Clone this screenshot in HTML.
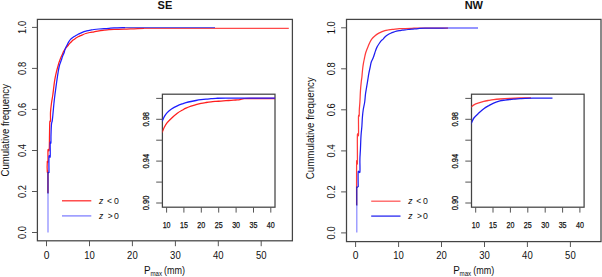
<!DOCTYPE html>
<html><head><meta charset="utf-8"><style>
html,body{margin:0;padding:0;background:#fff;width:602px;height:277px;overflow:hidden}
svg{display:block}
text{font-family:"Liberation Sans",sans-serif;fill:#111}
.b{stroke:#111;stroke-width:0.25px}
</style></head><body>
<svg width="602" height="277" viewBox="0 0 602 277">
<rect width="602" height="277" fill="#fff"/>
<rect x="37.4" y="19.4" width="255.0" height="221.4" fill="none" stroke="#444" stroke-width="1.25"/>
<line x1="32.0" y1="232.5" x2="37.4" y2="232.5" stroke="#555" stroke-width="1.0"/>
<text x="26.1" y="232.5" transform="rotate(-90 26.1 232.5)" text-anchor="middle" font-size="10.3" textLength="13.0" lengthAdjust="spacingAndGlyphs">0.0</text>
<line x1="32.0" y1="191.5" x2="37.4" y2="191.5" stroke="#555" stroke-width="1.0"/>
<text x="26.1" y="191.5" transform="rotate(-90 26.1 191.5)" text-anchor="middle" font-size="10.3" textLength="13.0" lengthAdjust="spacingAndGlyphs">0.2</text>
<line x1="32.0" y1="150.5" x2="37.4" y2="150.5" stroke="#555" stroke-width="1.0"/>
<text x="26.1" y="150.5" transform="rotate(-90 26.1 150.5)" text-anchor="middle" font-size="10.3" textLength="13.0" lengthAdjust="spacingAndGlyphs">0.4</text>
<line x1="32.0" y1="109.4" x2="37.4" y2="109.4" stroke="#555" stroke-width="1.0"/>
<text x="26.1" y="109.4" transform="rotate(-90 26.1 109.4)" text-anchor="middle" font-size="10.3" textLength="13.0" lengthAdjust="spacingAndGlyphs">0.6</text>
<line x1="32.0" y1="68.4" x2="37.4" y2="68.4" stroke="#555" stroke-width="1.0"/>
<text x="26.1" y="68.4" transform="rotate(-90 26.1 68.4)" text-anchor="middle" font-size="10.3" textLength="13.0" lengthAdjust="spacingAndGlyphs">0.8</text>
<line x1="32.0" y1="27.4" x2="37.4" y2="27.4" stroke="#555" stroke-width="1.0"/>
<text x="26.1" y="27.4" transform="rotate(-90 26.1 27.4)" text-anchor="middle" font-size="10.3" textLength="13.0" lengthAdjust="spacingAndGlyphs">1.0</text>
<line x1="46.5" y1="240.8" x2="46.5" y2="246.2" stroke="#555" stroke-width="1.0"/>
<text x="46.5" y="259" text-anchor="middle" font-size="10.3">0</text>
<line x1="89.5" y1="240.8" x2="89.5" y2="246.2" stroke="#555" stroke-width="1.0"/>
<text x="89.5" y="259" text-anchor="middle" font-size="10.3" textLength="10.6" lengthAdjust="spacingAndGlyphs">10</text>
<line x1="132.4" y1="240.8" x2="132.4" y2="246.2" stroke="#555" stroke-width="1.0"/>
<text x="132.4" y="259" text-anchor="middle" font-size="10.3" textLength="10.6" lengthAdjust="spacingAndGlyphs">20</text>
<line x1="175.4" y1="240.8" x2="175.4" y2="246.2" stroke="#555" stroke-width="1.0"/>
<text x="175.4" y="259" text-anchor="middle" font-size="10.3" textLength="10.6" lengthAdjust="spacingAndGlyphs">30</text>
<line x1="218.3" y1="240.8" x2="218.3" y2="246.2" stroke="#555" stroke-width="1.0"/>
<text x="218.3" y="259" text-anchor="middle" font-size="10.3" textLength="10.6" lengthAdjust="spacingAndGlyphs">40</text>
<line x1="261.2" y1="240.8" x2="261.2" y2="246.2" stroke="#555" stroke-width="1.0"/>
<text x="261.2" y="259" text-anchor="middle" font-size="10.3" textLength="10.6" lengthAdjust="spacingAndGlyphs">50</text>
<text x="164.9" y="9" text-anchor="middle" font-size="11" font-weight="bold">SE</text>
<text x="144.1" y="273.8" font-size="10.6" textLength="6.6" lengthAdjust="spacingAndGlyphs">P</text>
<text x="150.5" y="275.9" font-size="6.8" textLength="11.6" lengthAdjust="spacingAndGlyphs">max</text>
<text x="164.1" y="273.9" font-size="10.6" textLength="21.0" lengthAdjust="spacingAndGlyphs">(mm)</text>
<text x="8.7" y="130.3" transform="rotate(-90 8.7 130.3)" text-anchor="middle" font-size="10.4" textLength="92.4" lengthAdjust="spacingAndGlyphs">Cumulative frequency</text>
<g fill="none" stroke-width="1.25" stroke-linejoin="round">
<path d="M47.90,193.00 C47.90,189.50 48.00,175.50 47.90,172.00 C47.80,168.50 47.40,173.72 47.30,172.00 C47.20,170.28 47.18,163.42 47.30,161.70 C47.42,159.98 47.88,163.65 48.00,161.70 C48.12,159.75 47.80,151.95 48.00,150.00 C48.20,148.05 48.95,152.50 49.20,150.00 C49.45,147.50 49.40,139.67 49.50,135.00 C49.60,130.33 49.63,124.33 49.80,122.00 C49.97,119.67 50.38,122.60 50.50,121.00 C50.62,119.40 50.33,115.40 50.50,112.40 C50.67,109.40 51.12,105.90 51.50,103.00 C51.88,100.10 52.42,97.68 52.80,95.00 C53.18,92.32 53.47,89.47 53.80,86.90 C54.13,84.33 54.38,82.02 54.80,79.60 C55.22,77.18 55.77,74.67 56.30,72.40 C56.83,70.13 57.53,67.72 58.00,66.00 C58.47,64.28 58.75,63.17 59.10,62.10 C59.45,61.03 59.77,60.43 60.10,59.60 C60.43,58.77 60.73,57.95 61.10,57.10 C61.47,56.25 61.93,55.35 62.30,54.50 C62.67,53.65 63.00,52.65 63.30,52.00 C63.60,51.35 63.65,51.30 64.10,50.60 C64.55,49.90 65.28,48.73 66.00,47.80 C66.72,46.87 67.82,45.70 68.40,45.00 C68.98,44.30 69.15,44.00 69.50,43.60 C69.85,43.20 69.90,43.18 70.50,42.60 C71.10,42.02 72.25,40.82 73.10,40.10 C73.95,39.38 74.77,38.85 75.60,38.30 C76.43,37.75 77.27,37.25 78.10,36.80 C78.93,36.35 79.87,35.93 80.60,35.60 C81.33,35.27 81.63,35.15 82.50,34.80 C83.37,34.45 84.58,33.88 85.80,33.50 C87.02,33.12 88.43,32.78 89.80,32.50 C91.17,32.22 92.47,32.08 94.00,31.80 C95.53,31.52 97.33,31.07 99.00,30.80 C100.67,30.53 102.33,30.38 104.00,30.20 C105.67,30.02 107.33,29.83 109.00,29.70 C110.67,29.57 111.50,29.48 114.00,29.40 C116.50,29.32 120.67,29.30 124.00,29.20 C127.33,29.10 130.67,28.93 134.00,28.80 C137.33,28.67 142.33,28.47 144.00,28.40" stroke="#ff1e1e"/>
<path d="M49.00,173.00 C49.00,170.27 48.80,159.33 49.00,156.60 C49.20,153.87 50.00,158.87 50.20,156.60 C50.40,154.33 50.08,145.27 50.20,143.00 C50.32,140.73 50.77,144.33 50.90,143.00 C51.03,141.67 50.90,138.17 51.00,135.00 C51.10,131.83 51.28,126.43 51.50,124.00 C51.72,121.57 52.03,122.33 52.30,120.40 C52.57,118.47 52.83,115.18 53.10,112.40 C53.37,109.62 53.60,106.60 53.90,103.70 C54.20,100.80 54.55,97.80 54.90,95.00 C55.25,92.20 55.65,89.47 56.00,86.90 C56.35,84.33 56.65,82.02 57.00,79.60 C57.35,77.18 57.72,74.67 58.10,72.40 C58.48,70.13 58.88,67.72 59.30,66.00 C59.72,64.28 60.23,63.17 60.60,62.10 C60.97,61.03 61.22,60.43 61.50,59.60 C61.78,58.77 62.00,57.95 62.30,57.10 C62.60,56.25 62.98,55.27 63.30,54.50 C63.62,53.73 63.95,53.23 64.20,52.50 C64.45,51.77 64.53,50.92 64.80,50.10 C65.07,49.28 65.42,48.45 65.80,47.60 C66.18,46.75 66.68,45.83 67.10,45.00 C67.52,44.17 67.73,43.53 68.30,42.60 C68.87,41.67 69.70,40.28 70.50,39.40 C71.30,38.52 72.25,37.90 73.10,37.30 C73.95,36.70 74.77,36.30 75.60,35.80 C76.43,35.30 77.27,34.75 78.10,34.30 C78.93,33.85 79.62,33.55 80.60,33.10 C81.58,32.65 83.00,31.97 84.00,31.60 C85.00,31.23 85.50,31.15 86.60,30.90 C87.70,30.65 89.37,30.33 90.60,30.10 C91.83,29.87 92.60,29.68 94.00,29.50 C95.40,29.32 97.33,29.13 99.00,29.00 C100.67,28.87 102.33,28.82 104.00,28.70 C105.67,28.58 107.33,28.43 109.00,28.30 C110.67,28.17 111.33,28.02 114.00,27.90 C116.67,27.78 123.17,27.65 125.00,27.60" stroke="#1e1eff"/>
</g>
<polyline points="144.0,28.4 288.8,28.4" fill="none" stroke="#ff4a4a" stroke-width="1.1"/><polyline points="125.0,27.6 215.0,27.6" fill="none" stroke="#5050e0" stroke-width="1.0"/><polyline points="48.0,232.5 48.0,193.0" fill="none" stroke="#8c8cff" stroke-width="1.25"/><polyline points="48.0,193.5 48.0,172.6 49.0,172.6" fill="none" stroke="#2222c0" stroke-width="1.25"/>
<line x1="62.0" y1="200.8" x2="91.3" y2="200.8" stroke="#ff3030" stroke-width="1.3"/>
<line x1="62.0" y1="215.9" x2="91.3" y2="215.9" stroke="#8080ff" stroke-width="1.3"/>
<text x="101.1" y="203.7" font-size="8.5" font-style="italic" text-anchor="middle">z</text>
<text x="109.5" y="203.7" font-size="8.5" text-anchor="middle">&lt;</text>
<text x="116.3" y="203.7" font-size="8.7" text-anchor="middle">0</text>
<text x="101.1" y="218.7" font-size="8.5" font-style="italic" text-anchor="middle">z</text>
<text x="110.2" y="218.7" font-size="8.5" text-anchor="middle">&gt;</text>
<text x="116.3" y="218.7" font-size="8.7" text-anchor="middle">0</text>
<defs><clipPath id="c0"><rect x="162.4" y="94.2" width="112.6" height="113.0"/></clipPath></defs>
<rect x="162.4" y="94.2" width="112.6" height="113.0" fill="#fff" stroke="#444" stroke-width="1.25"/>
<line x1="156.2" y1="203.0" x2="162.4" y2="203.0" stroke="#555" stroke-width="1.0"/>
<text x="148.8" y="203.0" transform="rotate(-90 148.8 203.0)" text-anchor="middle" class="b" font-size="8.2" textLength="14.6" lengthAdjust="spacingAndGlyphs">0.90</text>
<line x1="156.2" y1="182.1" x2="162.4" y2="182.1" stroke="#555" stroke-width="1.0"/>
<line x1="156.2" y1="161.1" x2="162.4" y2="161.1" stroke="#555" stroke-width="1.0"/>
<text x="148.8" y="161.1" transform="rotate(-90 148.8 161.1)" text-anchor="middle" class="b" font-size="8.2" textLength="14.6" lengthAdjust="spacingAndGlyphs">0.94</text>
<line x1="156.2" y1="140.2" x2="162.4" y2="140.2" stroke="#555" stroke-width="1.0"/>
<line x1="156.2" y1="119.3" x2="162.4" y2="119.3" stroke="#555" stroke-width="1.0"/>
<text x="148.8" y="119.3" transform="rotate(-90 148.8 119.3)" text-anchor="middle" class="b" font-size="8.2" textLength="14.6" lengthAdjust="spacingAndGlyphs">0.98</text>
<line x1="156.2" y1="98.4" x2="162.4" y2="98.4" stroke="#555" stroke-width="1.0"/>
<line x1="166.6" y1="207.2" x2="166.6" y2="212.6" stroke="#555" stroke-width="1.0"/>
<text x="166.6" y="227.7" class="b" text-anchor="middle" font-size="9" textLength="7.9" lengthAdjust="spacingAndGlyphs">10</text>
<line x1="183.9" y1="207.2" x2="183.9" y2="212.6" stroke="#555" stroke-width="1.0"/>
<text x="183.9" y="227.7" class="b" text-anchor="middle" font-size="9" textLength="7.9" lengthAdjust="spacingAndGlyphs">15</text>
<line x1="201.3" y1="207.2" x2="201.3" y2="212.6" stroke="#555" stroke-width="1.0"/>
<text x="201.3" y="227.7" class="b" text-anchor="middle" font-size="9" textLength="7.9" lengthAdjust="spacingAndGlyphs">20</text>
<line x1="218.7" y1="207.2" x2="218.7" y2="212.6" stroke="#555" stroke-width="1.0"/>
<text x="218.7" y="227.7" class="b" text-anchor="middle" font-size="9" textLength="7.9" lengthAdjust="spacingAndGlyphs">25</text>
<line x1="236.1" y1="207.2" x2="236.1" y2="212.6" stroke="#555" stroke-width="1.0"/>
<text x="236.1" y="227.7" class="b" text-anchor="middle" font-size="9" textLength="7.9" lengthAdjust="spacingAndGlyphs">30</text>
<line x1="253.5" y1="207.2" x2="253.5" y2="212.6" stroke="#555" stroke-width="1.0"/>
<text x="253.5" y="227.7" class="b" text-anchor="middle" font-size="9" textLength="7.9" lengthAdjust="spacingAndGlyphs">35</text>
<line x1="270.8" y1="207.2" x2="270.8" y2="212.6" stroke="#555" stroke-width="1.0"/>
<text x="270.8" y="227.7" class="b" text-anchor="middle" font-size="9" textLength="7.9" lengthAdjust="spacingAndGlyphs">40</text>
<g fill="none" stroke-width="1.3" clip-path="url(#c0)">
<path d="M160.00,135.00 C160.42,134.40 161.78,132.70 162.50,131.40 C163.22,130.10 163.52,128.65 164.30,127.20 C165.08,125.75 166.00,124.20 167.20,122.70 C168.40,121.20 169.82,119.78 171.50,118.20 C173.18,116.62 175.37,114.62 177.30,113.20 C179.23,111.78 181.65,110.53 183.10,109.70 C184.55,108.87 184.68,108.78 186.00,108.20 C187.32,107.62 189.33,106.78 191.00,106.20 C192.67,105.62 194.33,105.17 196.00,104.70 C197.67,104.23 199.33,103.77 201.00,103.40 C202.67,103.03 204.33,102.77 206.00,102.50 C207.67,102.23 209.33,101.98 211.00,101.80 C212.67,101.62 214.33,101.52 216.00,101.40 C217.67,101.28 219.33,101.22 221.00,101.10 C222.67,100.98 224.33,100.83 226.00,100.70 C227.67,100.57 229.33,100.42 231.00,100.30 C232.67,100.18 234.50,100.12 236.00,100.00 C237.50,99.88 238.67,99.82 240.00,99.60 C241.33,99.38 242.33,98.88 244.00,98.70 C245.67,98.52 244.67,98.53 250.00,98.50 C255.33,98.47 271.67,98.50 276.00,98.50" stroke="#ff1e1e"/>
<path d="M160.00,123.50 C160.42,123.00 161.78,121.65 162.50,120.50 C163.22,119.35 163.52,117.92 164.30,116.60 C165.08,115.28 166.00,113.87 167.20,112.60 C168.40,111.33 169.82,110.13 171.50,109.00 C173.18,107.87 175.37,106.70 177.30,105.80 C179.23,104.90 181.65,104.12 183.10,103.60 C184.55,103.08 184.68,103.05 186.00,102.70 C187.32,102.35 189.33,101.87 191.00,101.50 C192.67,101.13 194.33,100.80 196.00,100.50 C197.67,100.20 199.33,99.93 201.00,99.70 C202.67,99.47 204.33,99.27 206.00,99.10 C207.67,98.93 209.33,98.83 211.00,98.70 C212.67,98.57 213.50,98.40 216.00,98.30 C218.50,98.20 216.00,98.13 226.00,98.10 C236.00,98.07 267.67,98.10 276.00,98.10" stroke="#1e1eff"/>
</g>
<rect x="346.5" y="19.4" width="254.5" height="222.2" fill="none" stroke="#444" stroke-width="1.25"/>
<line x1="341.1" y1="232.9" x2="346.5" y2="232.9" stroke="#555" stroke-width="1.0"/>
<text x="335.2" y="232.9" transform="rotate(-90 335.2 232.9)" text-anchor="middle" font-size="10.3" textLength="13.0" lengthAdjust="spacingAndGlyphs">0.0</text>
<line x1="341.1" y1="191.9" x2="346.5" y2="191.9" stroke="#555" stroke-width="1.0"/>
<text x="335.2" y="191.9" transform="rotate(-90 335.2 191.9)" text-anchor="middle" font-size="10.3" textLength="13.0" lengthAdjust="spacingAndGlyphs">0.2</text>
<line x1="341.1" y1="150.9" x2="346.5" y2="150.9" stroke="#555" stroke-width="1.0"/>
<text x="335.2" y="150.9" transform="rotate(-90 335.2 150.9)" text-anchor="middle" font-size="10.3" textLength="13.0" lengthAdjust="spacingAndGlyphs">0.4</text>
<line x1="341.1" y1="109.8" x2="346.5" y2="109.8" stroke="#555" stroke-width="1.0"/>
<text x="335.2" y="109.8" transform="rotate(-90 335.2 109.8)" text-anchor="middle" font-size="10.3" textLength="13.0" lengthAdjust="spacingAndGlyphs">0.6</text>
<line x1="341.1" y1="68.8" x2="346.5" y2="68.8" stroke="#555" stroke-width="1.0"/>
<text x="335.2" y="68.8" transform="rotate(-90 335.2 68.8)" text-anchor="middle" font-size="10.3" textLength="13.0" lengthAdjust="spacingAndGlyphs">0.8</text>
<line x1="341.1" y1="27.8" x2="346.5" y2="27.8" stroke="#555" stroke-width="1.0"/>
<text x="335.2" y="27.8" transform="rotate(-90 335.2 27.8)" text-anchor="middle" font-size="10.3" textLength="13.0" lengthAdjust="spacingAndGlyphs">1.0</text>
<line x1="355.6" y1="241.6" x2="355.6" y2="247.0" stroke="#555" stroke-width="1.0"/>
<text x="355.6" y="259" text-anchor="middle" font-size="10.3">0</text>
<line x1="398.6" y1="241.6" x2="398.6" y2="247.0" stroke="#555" stroke-width="1.0"/>
<text x="398.6" y="259" text-anchor="middle" font-size="10.3" textLength="10.6" lengthAdjust="spacingAndGlyphs">10</text>
<line x1="441.5" y1="241.6" x2="441.5" y2="247.0" stroke="#555" stroke-width="1.0"/>
<text x="441.5" y="259" text-anchor="middle" font-size="10.3" textLength="10.6" lengthAdjust="spacingAndGlyphs">20</text>
<line x1="484.5" y1="241.6" x2="484.5" y2="247.0" stroke="#555" stroke-width="1.0"/>
<text x="484.5" y="259" text-anchor="middle" font-size="10.3" textLength="10.6" lengthAdjust="spacingAndGlyphs">30</text>
<line x1="527.4" y1="241.6" x2="527.4" y2="247.0" stroke="#555" stroke-width="1.0"/>
<text x="527.4" y="259" text-anchor="middle" font-size="10.3" textLength="10.6" lengthAdjust="spacingAndGlyphs">40</text>
<line x1="570.4" y1="241.6" x2="570.4" y2="247.0" stroke="#555" stroke-width="1.0"/>
<text x="570.4" y="259" text-anchor="middle" font-size="10.3" textLength="10.6" lengthAdjust="spacingAndGlyphs">50</text>
<text x="473.8" y="9" text-anchor="middle" font-size="11" font-weight="bold">NW</text>
<text x="453.2" y="273.8" font-size="10.6" textLength="6.6" lengthAdjust="spacingAndGlyphs">P</text>
<text x="459.6" y="275.9" font-size="6.8" textLength="11.6" lengthAdjust="spacingAndGlyphs">max</text>
<text x="473.2" y="273.9" font-size="10.6" textLength="21.0" lengthAdjust="spacingAndGlyphs">(mm)</text>
<text x="314.2" y="128.2" transform="rotate(-90 314.2 128.2)" text-anchor="middle" font-size="10.4" textLength="101.9" lengthAdjust="spacingAndGlyphs">Cummulative frequency</text>
<g fill="none" stroke-width="1.25" stroke-linejoin="round">
<path d="M356.60,205.00 C356.60,198.00 356.47,170.00 356.60,163.00 C356.73,156.00 357.27,167.60 357.40,163.00 C357.53,158.40 357.22,140.07 357.40,135.40 C357.58,130.73 358.32,138.15 358.50,135.00 C358.68,131.85 358.38,119.67 358.50,116.50 C358.62,113.33 359.07,117.08 359.20,116.00 C359.33,114.92 359.18,112.33 359.30,110.00 C359.42,107.67 359.70,105.32 359.90,102.00 C360.10,98.68 360.27,93.52 360.50,90.10 C360.73,86.68 361.07,83.68 361.30,81.50 C361.53,79.32 361.75,78.32 361.90,77.00 C362.05,75.68 362.05,75.18 362.20,73.60 C362.35,72.02 362.57,69.38 362.80,67.50 C363.03,65.62 363.32,63.88 363.60,62.30 C363.88,60.72 364.18,59.47 364.50,58.00 C364.82,56.53 365.15,54.78 365.50,53.50 C365.85,52.22 366.18,51.42 366.60,50.30 C367.02,49.18 367.47,48.12 368.00,46.80 C368.53,45.48 369.15,43.73 369.80,42.40 C370.45,41.07 371.07,39.88 371.90,38.80 C372.73,37.72 373.72,36.80 374.80,35.90 C375.88,35.00 377.18,34.12 378.40,33.40 C379.62,32.68 381.02,32.07 382.10,31.60 C383.18,31.13 383.95,30.87 384.90,30.60 C385.85,30.33 386.83,30.17 387.80,30.00 C388.77,29.83 389.73,29.72 390.70,29.60 C391.67,29.48 392.17,29.45 393.60,29.30 C395.03,29.15 397.38,28.83 399.30,28.70 C401.22,28.57 402.98,28.57 405.10,28.50 C407.22,28.43 409.52,28.37 412.00,28.30 C414.48,28.23 414.00,28.13 420.00,28.10 C426.00,28.07 443.33,28.10 448.00,28.10" stroke="#ff3a3a"/>
<path d="M358.20,187.00 C358.20,184.50 357.92,174.50 358.20,172.00 C358.48,169.50 359.62,174.10 359.90,172.00 C360.18,169.90 359.82,163.07 359.90,159.40 C359.98,155.73 360.22,153.90 360.40,150.00 C360.58,146.10 360.75,140.00 361.00,136.00 C361.25,132.00 361.67,129.13 361.90,126.00 C362.13,122.87 362.18,119.87 362.40,117.20 C362.62,114.53 362.82,112.53 363.20,110.00 C363.58,107.47 364.32,104.67 364.70,102.00 C365.08,99.33 365.22,96.27 365.50,94.00 C365.78,91.73 366.08,90.35 366.40,88.40 C366.72,86.45 367.12,84.03 367.40,82.30 C367.68,80.57 367.87,79.45 368.10,78.00 C368.33,76.55 368.47,75.35 368.80,73.60 C369.13,71.85 369.70,69.38 370.10,67.50 C370.50,65.62 370.68,63.92 371.20,62.30 C371.72,60.68 372.48,59.70 373.20,57.80 C373.92,55.90 374.87,52.68 375.50,50.90 C376.13,49.12 376.38,48.33 377.00,47.10 C377.62,45.87 378.48,44.58 379.20,43.50 C379.92,42.42 380.63,41.33 381.30,40.60 C381.97,39.87 382.60,39.70 383.20,39.10 C383.80,38.50 384.13,37.73 384.90,37.00 C385.67,36.27 386.83,35.33 387.80,34.70 C388.77,34.07 389.73,33.63 390.70,33.20 C391.67,32.77 392.63,32.43 393.60,32.10 C394.57,31.77 395.55,31.45 396.50,31.20 C397.45,30.95 398.35,30.77 399.30,30.60 C400.25,30.43 401.23,30.33 402.20,30.20 C403.17,30.07 404.13,29.92 405.10,29.80 C406.07,29.68 406.85,29.60 408.00,29.50 C409.15,29.40 410.33,29.35 412.00,29.20 C413.67,29.05 415.83,28.78 418.00,28.60 C420.17,28.42 420.00,28.20 425.00,28.10 C430.00,28.00 444.17,28.02 448.00,28.00" stroke="#1e1ef0"/>
</g>
<polyline points="448.0,28.0 478.0,28.0" fill="none" stroke="#5c5cff" stroke-width="1.3"/><polyline points="356.8,232.5 356.8,205.0" fill="none" stroke="#8c8cff" stroke-width="1.25"/><polyline points="356.8,205.5 356.8,187.0 358.2,187.0" fill="none" stroke="#2222c0" stroke-width="1.25"/>
<line x1="371.2" y1="201.2" x2="400.5" y2="201.2" stroke="#ff5a5a" stroke-width="1.3"/>
<line x1="371.2" y1="216.1" x2="400.5" y2="216.1" stroke="#2828f0" stroke-width="1.3"/>
<text x="410.3" y="203.7" font-size="8.5" font-style="italic" text-anchor="middle">z</text>
<text x="418.7" y="203.7" font-size="8.5" text-anchor="middle">&lt;</text>
<text x="425.5" y="203.7" font-size="8.7" text-anchor="middle">0</text>
<text x="410.3" y="218.7" font-size="8.5" font-style="italic" text-anchor="middle">z</text>
<text x="419.4" y="218.7" font-size="8.5" text-anchor="middle">&gt;</text>
<text x="425.5" y="218.7" font-size="8.7" text-anchor="middle">0</text>
<defs><clipPath id="c309"><rect x="471.5" y="94.2" width="112.6" height="113.0"/></clipPath></defs>
<rect x="471.5" y="94.2" width="112.6" height="113.0" fill="#fff" stroke="#444" stroke-width="1.25"/>
<line x1="465.3" y1="203.0" x2="471.5" y2="203.0" stroke="#555" stroke-width="1.0"/>
<text x="457.9" y="203.0" transform="rotate(-90 457.9 203.0)" text-anchor="middle" class="b" font-size="8.2" textLength="14.6" lengthAdjust="spacingAndGlyphs">0.90</text>
<line x1="465.3" y1="182.1" x2="471.5" y2="182.1" stroke="#555" stroke-width="1.0"/>
<line x1="465.3" y1="161.1" x2="471.5" y2="161.1" stroke="#555" stroke-width="1.0"/>
<text x="457.9" y="161.1" transform="rotate(-90 457.9 161.1)" text-anchor="middle" class="b" font-size="8.2" textLength="14.6" lengthAdjust="spacingAndGlyphs">0.94</text>
<line x1="465.3" y1="140.2" x2="471.5" y2="140.2" stroke="#555" stroke-width="1.0"/>
<line x1="465.3" y1="119.3" x2="471.5" y2="119.3" stroke="#555" stroke-width="1.0"/>
<text x="457.9" y="119.3" transform="rotate(-90 457.9 119.3)" text-anchor="middle" class="b" font-size="8.2" textLength="14.6" lengthAdjust="spacingAndGlyphs">0.98</text>
<line x1="465.3" y1="98.4" x2="471.5" y2="98.4" stroke="#555" stroke-width="1.0"/>
<line x1="475.7" y1="207.2" x2="475.7" y2="212.6" stroke="#555" stroke-width="1.0"/>
<text x="475.7" y="227.7" class="b" text-anchor="middle" font-size="9" textLength="7.9" lengthAdjust="spacingAndGlyphs">10</text>
<line x1="493.0" y1="207.2" x2="493.0" y2="212.6" stroke="#555" stroke-width="1.0"/>
<text x="493.0" y="227.7" class="b" text-anchor="middle" font-size="9" textLength="7.9" lengthAdjust="spacingAndGlyphs">15</text>
<line x1="510.4" y1="207.2" x2="510.4" y2="212.6" stroke="#555" stroke-width="1.0"/>
<text x="510.4" y="227.7" class="b" text-anchor="middle" font-size="9" textLength="7.9" lengthAdjust="spacingAndGlyphs">20</text>
<line x1="527.8" y1="207.2" x2="527.8" y2="212.6" stroke="#555" stroke-width="1.0"/>
<text x="527.8" y="227.7" class="b" text-anchor="middle" font-size="9" textLength="7.9" lengthAdjust="spacingAndGlyphs">25</text>
<line x1="545.2" y1="207.2" x2="545.2" y2="212.6" stroke="#555" stroke-width="1.0"/>
<text x="545.2" y="227.7" class="b" text-anchor="middle" font-size="9" textLength="7.9" lengthAdjust="spacingAndGlyphs">30</text>
<line x1="562.6" y1="207.2" x2="562.6" y2="212.6" stroke="#555" stroke-width="1.0"/>
<text x="562.6" y="227.7" class="b" text-anchor="middle" font-size="9" textLength="7.9" lengthAdjust="spacingAndGlyphs">35</text>
<line x1="579.9" y1="207.2" x2="579.9" y2="212.6" stroke="#555" stroke-width="1.0"/>
<text x="579.9" y="227.7" class="b" text-anchor="middle" font-size="9" textLength="7.9" lengthAdjust="spacingAndGlyphs">40</text>
<g fill="none" stroke-width="1.3" clip-path="url(#c309)">
<path d="M469.00,108.00 C469.42,107.78 470.68,107.23 471.50,106.70 C472.32,106.17 472.68,105.43 473.90,104.80 C475.12,104.17 477.15,103.47 478.80,102.90 C480.45,102.33 482.15,101.82 483.80,101.40 C485.45,100.98 487.07,100.70 488.70,100.40 C490.33,100.10 491.72,99.83 493.60,99.60 C495.48,99.37 497.27,99.20 500.00,99.00 C502.73,98.80 506.67,98.57 510.00,98.40 C513.33,98.23 516.50,98.10 520.00,98.00 C523.50,97.90 529.17,97.83 531.00,97.80" stroke="#ff3a3a"/>
<path d="M469.00,127.00 C469.42,126.32 470.68,124.40 471.50,122.90 C472.32,121.40 472.68,119.63 473.90,118.00 C475.12,116.37 477.15,114.63 478.80,113.10 C480.45,111.57 482.15,110.03 483.80,108.80 C485.45,107.57 487.07,106.65 488.70,105.70 C490.33,104.75 491.72,103.90 493.60,103.10 C495.48,102.30 498.10,101.40 500.00,100.90 C501.90,100.40 503.33,100.33 505.00,100.10 C506.67,99.87 508.33,99.67 510.00,99.50 C511.67,99.33 513.33,99.23 515.00,99.10 C516.67,98.97 518.33,98.83 520.00,98.70 C521.67,98.57 522.50,98.38 525.00,98.30 C527.50,98.22 530.42,98.22 535.00,98.20 C539.58,98.18 549.58,98.20 552.50,98.20" stroke="#1e1ef0"/>
</g>
</svg>
</body></html>
